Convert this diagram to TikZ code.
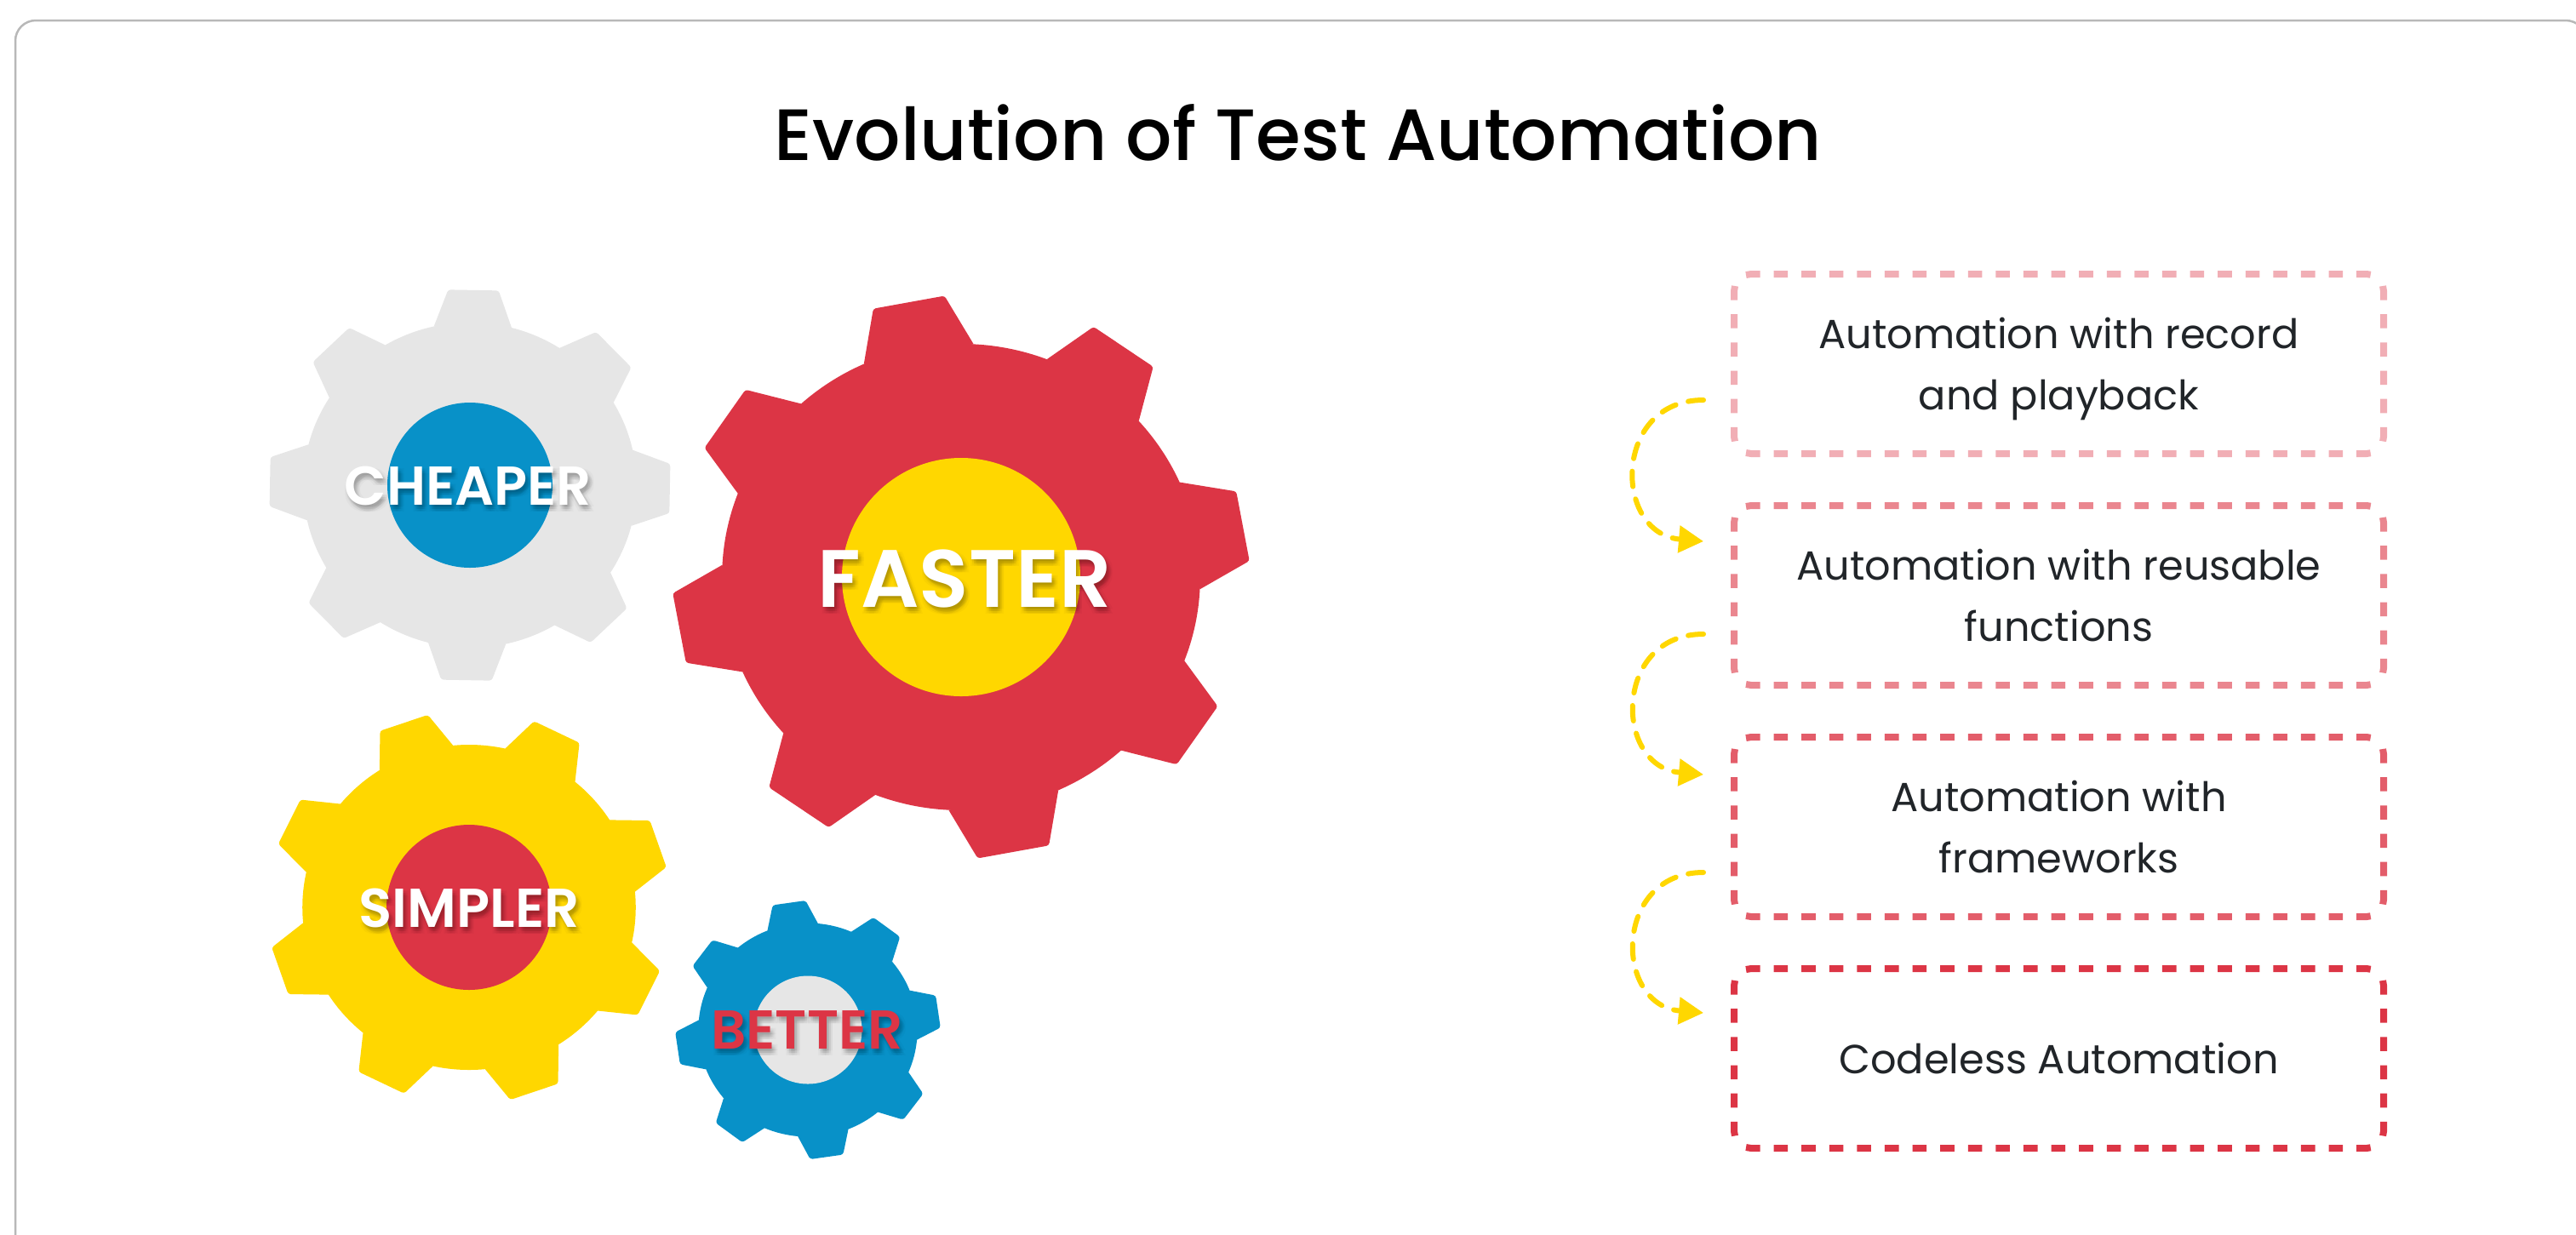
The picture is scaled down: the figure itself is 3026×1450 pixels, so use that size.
\documentclass[tikz,border=0pt]{standalone}
\usepackage{fontspec}
\usepackage{xcolor}
\usetikzlibrary{arrows.meta}
\setmainfont{Poppins}
\newfontfamily\titlefont{Poppins Medium}
\newfontfamily\labelfont{Poppins SemiBold}
\definecolor{gearred}{HTML}{DC3545}
\definecolor{gearyellow}{HTML}{FFD700}
\definecolor{gearblue}{HTML}{0891C8}
\definecolor{geargrey}{HTML}{E6E6E6}
\definecolor{bodyink}{HTML}{212529}
\definecolor{cardline}{HTML}{B8B8B8}
\tikzset{
  flowbox/.style={rectangle,minimum width=76.3mm,minimum height=21.1mm,
    inner sep=0pt,outer sep=0pt,text=bodyink,align=center,
    font=\fontsize{13.6}{20.6}\selectfont},
  edgeflat/.style={line width=0.8mm,dash pattern=on 1.66mm off 1.6mm},
  edgetall/.style={line width=0.8mm,dash pattern=on 1.66mm off 1.66mm},
  flowarrow/.style={draw=gearyellow,line width=0.6mm,line cap=round,
    dash pattern=on 1.8mm off 1.5mm,
    -{Triangle[length=2.9mm,width=3.1mm,fill=gearyellow]}},
  gearlabel/.style={inner sep=0pt,outer sep=0pt,font=\labelfont\fontsize{18.3}{18.3}\selectfont},
  gearshade/.style={text=black,text opacity=0.022}
}
% centre x, centre y, tip radius, root radius, phase, colour
\newcommand{\drawgear}[6]{
  \fill[#6,shift={(#1,#2)},xscale=1.025] (0,0) circle (#4);
  \foreach \t in {0,...,7}{
    \pgfmathsetmacro{\a}{#5+45*\t}
    \fill[#6,shift={(#1,#2)},xscale=1.025] ({-\a-13.5}:#4) [rounded corners=0.3mm] -- ({-\a-7.2}:#3) -- ({-\a+7.2}:#3) [sharp corners] -- ({-\a+13.5}:#4) -- cycle;
  }
}
% name, x, y, text, options
\newcommand{\gearname}[5]{
  \foreach \dx/\dy [count=\k] in {3/5,1/5,5/5,3/2,3/8,-1/2,7/2,-1/8,7/8,3/5,1/3,5/3,1/7,5/7}{
    \node[gearlabel,#5,gearshade] (#1shade\k) at (#2+\dx,#3+\dy) {#4};
  }
  \node[gearlabel,#5] (#1) at (#2,#3) {#4};
}
% the four dashed sides of a box: node, colour
\newcommand{\flowedges}[2]{
  \draw[edgeflat,draw=#2] ([shift={(14,1)}]#1.north west) -- ([shift={(20,0)}]#1.north west) -- ([shift={(-20,0)}]#1.north east) -- ([shift={(-14,1)}]#1.north east);
  \draw[edgeflat,draw=#2] ([shift={(14,-1)}]#1.south west) -- ([shift={(20,0)}]#1.south west) -- ([shift={(-20,0)}]#1.south east) -- ([shift={(-14,-1)}]#1.south east);
  \draw[edgetall,draw=#2] ([shift={(1,14)}]#1.north west) -- ([shift={(0,20)}]#1.north west) -- ([shift={(0,-20)}]#1.south west) -- ([shift={(1,-14)}]#1.south west);
  \draw[edgetall,draw=#2] ([shift={(-1,14)}]#1.north east) -- ([shift={(0,20)}]#1.north east) -- ([shift={(0,-20)}]#1.south east) -- ([shift={(-1,-14)}]#1.south east);
}

\begin{document}
\begin{tikzpicture}[x=0.1mm,y=-0.1mm]
\useasboundingbox (0,0) rectangle (3026,1450);
\clip (0,0) rectangle (3026,1450);
% card
\draw[cardline,line width=0.25mm,rounded corners=2.4mm] (18,24) rectangle (3038,1520);
% title
\node (title) [inner sep=0pt,font=\titlefont\fontsize{24.3}{24.3}\selectfont] at (1525,156) {Evolution of Test Automation};
% gears
\drawgear{552}{570}{231}{191}{89}{geargrey}
\fill[gearblue] (552,570) circle (97);
\gearname{cheaper}{550}{571}{CHEAPER}{text=white}
\drawgear{1129}{678}{331}{274}{100.5}{gearred}
\fill[gearyellow] (1129,678) circle (140);
\gearname{faster}{1133}{680}{FASTER}{text=white,font=\labelfont\fontsize{27.2}{27.2}\selectfont}
\drawgear{551}{1066}{231}{191}{109}{gearyellow}
\fill[gearred] (551,1066) circle (97);
\gearname{simpler}{551}{1067}{SIMPLER}{text=white}
\drawgear{949}{1210}{152}{125.5}{98.2}{gearblue}
\fill[geargrey] (949,1210) circle (63.5);
\gearname{better}{948}{1210}{BETTER}{text=gearred}
% boxes
\node (recordbox) [flowbox] at (2418.5,427.5) {Automation with record\\\raisebox{0pt}[\height][0pt]{and playback}};
\node (reusebox) [flowbox] at (2418.5,699.5) {Automation with reusable\\functions};
\node (frameworkbox) [flowbox] at (2418.5,971.5) {Automation with\\frameworks};
\node (codelessbox) [flowbox] at (2418.5,1243.5) {Codeless Automation};
\flowedges{recordbox}{gearred!40}
\flowedges{reusebox}{gearred!60}
\flowedges{frameworkbox}{gearred!80}
\flowedges{codelessbox}{gearred}
% arrows
\coordinate (recordout) at (2001,470);
\coordinate (reusein) at (2001,636);
\coordinate (reuseout) at (2001,745);
\coordinate (frameworkin) at (2001,910);
\coordinate (frameworkout) at (2001,1025);
\coordinate (codelessin) at (2001,1190);
\draw[flowarrow] (recordout) to[out=180,in=175,looseness=1.65] (reusein);
\draw[flowarrow] (reuseout) to[out=180,in=175,looseness=1.65] (frameworkin);
\draw[flowarrow] (frameworkout) to[out=180,in=175,looseness=1.65] (codelessin);
\end{tikzpicture}
\end{document}
